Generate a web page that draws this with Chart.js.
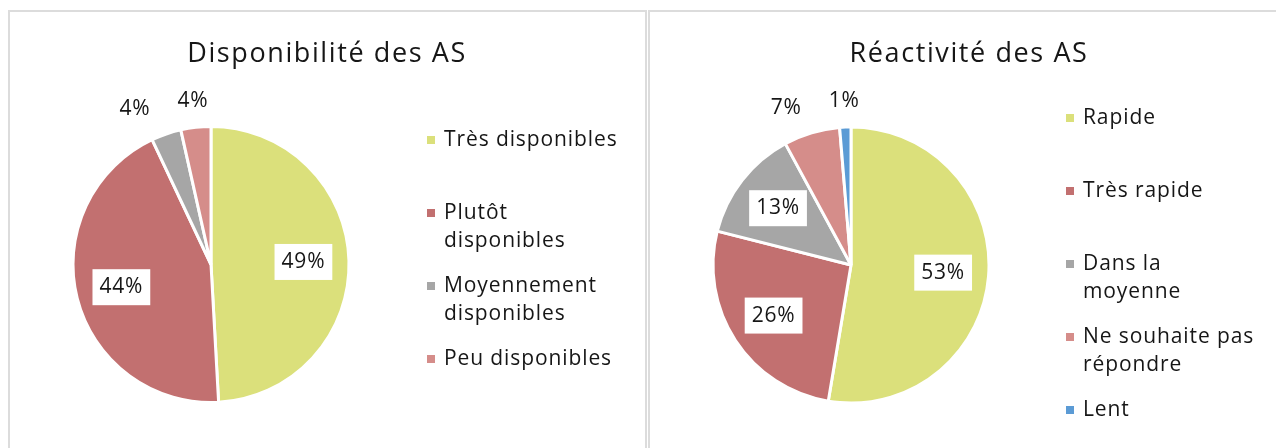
<!DOCTYPE html>
<html>
<head>
<meta charset="utf-8">
<script src="https://cdn.jsdelivr.net/npm/chart.js@4.4.1/dist/chart.umd.min.js"></script>
<style>
body { margin: 0; width: 1276px; height: 448px; overflow: hidden; background: #fff; position: relative; }
.panel { position: absolute; top: 10px; height: 460px; border: 2px solid #dcdcdc; box-sizing: border-box; }
canvas { position: absolute; left: 0; top: 0; }
</style>
</head>
<body>
<div class="panel" style="left:8px;width:639px"></div>
<div class="panel" style="left:648px;width:640px"></div>
<canvas id="dispoChart" width="1276" height="448"></canvas>
<canvas id="reactChart" width="1276" height="448"></canvas>
<script>
/* Disponibilité des AS */
var dispoTitle = "Disponibilité des AS";
var dispoLabels = [["Très disponibles"], ["Plutôt", "disponibles"], ["Moyennement", "disponibles"], ["Peu disponibles"]];
var dispoCounts = [28, 25, 2, 2];
var dispoColors = ["#dbe07b", "#c27070", "#a6a6a6", "#d58d8a"];

/* Réactivité des AS */
var reactTitle = "Réactivité des AS";
var reactLabels = [["Rapide"], ["Très rapide"], ["Dans la", "moyenne"], ["Ne souhaite pas", "répondre"], ["Lent"]];
var reactCounts = [40, 20, 10, 5, 1];
var reactColors = ["#dbe07b", "#c27070", "#a6a6a6", "#d58d8a", "#5b9bd5"];

var textColor = "#161616";
var fontName = "'Open Sans', Lato, sans-serif";

// percent labels: big slices get a white box inside, small ones go above the pie
var pieLabelsPlugin = {
	id: 'pieLabels',
	afterDatasetsDraw: function (chart) {
		var ctx = chart.ctx;
		var meta = chart.getDatasetMeta(0);
		var values = chart.data.datasets[0].data;
		var total = values.reduce(function (a, b) { return a + b; }, 0);
		var outside = [];
		ctx.save();
		ctx.font = "21px " + fontName;
		ctx.letterSpacing = "0.8px";
		ctx.textAlign = "center";
		ctx.textBaseline = "middle";
		meta.data.forEach(function (arc, i) {
			var p = arc.getProps(['x', 'y', 'startAngle', 'endAngle', 'outerRadius'], true);
			var mid = (p.startAngle + p.endAngle) / 2;
			var pct = Math.round(values[i] / total * 100);
			var text = pct + "%";
			if (pct >= 10) {
				var lx = p.x + Math.cos(mid) * p.outerRadius * 0.67;
				var ly = p.y + Math.sin(mid) * p.outerRadius * 0.67;
				var w = ctx.measureText(text).width + 14;
				ctx.fillStyle = "#fff";
				ctx.fillRect(lx - w / 2, ly - 18, w, 36);
				ctx.fillStyle = textColor;
				ctx.fillText(text, lx, ly);
			}
			else {
				outside.push({
					text: text,
					x: p.x + Math.cos(mid) * p.outerRadius * 1.19,
					y: p.y + Math.sin(mid) * p.outerRadius * 1.19
				});
			}
		});
		outside.sort(function (a, b) { return b.x - a.x; });
		for (var i = 1; i < outside.length; i++) {
			if (outside[i - 1].x - outside[i].x < 58) {
				outside[i].x = outside[i - 1].x - 58;
			}
		}
		ctx.fillStyle = textColor;
		outside.forEach(function (l) {
			ctx.fillText(l.text, l.x, l.y);
		});
		ctx.restore();
	}
};

// title + legend on the right, labels can be several lines
var sideLegendPlugin = {
	id: 'sideLegend',
	afterDraw: function (chart, args, opts) {
		var ctx = chart.ctx;
		ctx.save();
		ctx.fillStyle = textColor;
		ctx.textBaseline = "alphabetic";
		ctx.font = "27px " + fontName;
		ctx.letterSpacing = "1.6px";
		ctx.textAlign = "center";
		ctx.fillText(opts.title, opts.titleX, opts.titleY);
		ctx.font = "21px " + fontName;
		ctx.letterSpacing = "0.9px";
		ctx.textAlign = "left";
		var colors = chart.data.datasets[0].backgroundColor;
		chart.data.labels.forEach(function (lines, i) {
			var base = opts.y + i * 73;
			ctx.fillStyle = colors[i];
			ctx.fillRect(opts.x, base - 10, 8, 8);
			ctx.fillStyle = textColor;
			lines.forEach(function (line, j) {
				ctx.fillText(line, opts.x + 17, base + j * 28);
			});
		});
		ctx.restore();
	}
};

function makePie(id, labels, counts, colors, padding, legendOpts) {
	var ctx = document.getElementById(id).getContext("2d");
	return new Chart(ctx, {
		type: 'pie',
		data: {
			labels: labels,
			datasets: [
				{
					data: counts,
					backgroundColor: colors,
					borderColor: "#ffffff",
					borderWidth: 3
				}
			]
		},
		options: {
			responsive: false,
			animation: false,
			layout: { padding: padding },
			plugins: {
				legend: { display: false },
				tooltip: { enabled: false },
				sideLegend: legendOpts
			}
		},
		plugins: [pieLabelsPlugin, sideLegendPlugin]
	});
}

makePie("dispoChart", dispoLabels, dispoCounts, dispoColors,
	{ left: 71.5, top: 125, right: 925.5, bottom: 44 },
	{ title: dispoTitle, titleX: 327, titleY: 62, x: 427, y: 146 });

makePie("reactChart", reactLabels, reactCounts, reactColors,
	{ left: 711.5, top: 125.5, right: 285.5, bottom: 43.5 },
	{ title: reactTitle, titleX: 969, titleY: 62, x: 1066, y: 124 });
</script>
</body>
</html>
